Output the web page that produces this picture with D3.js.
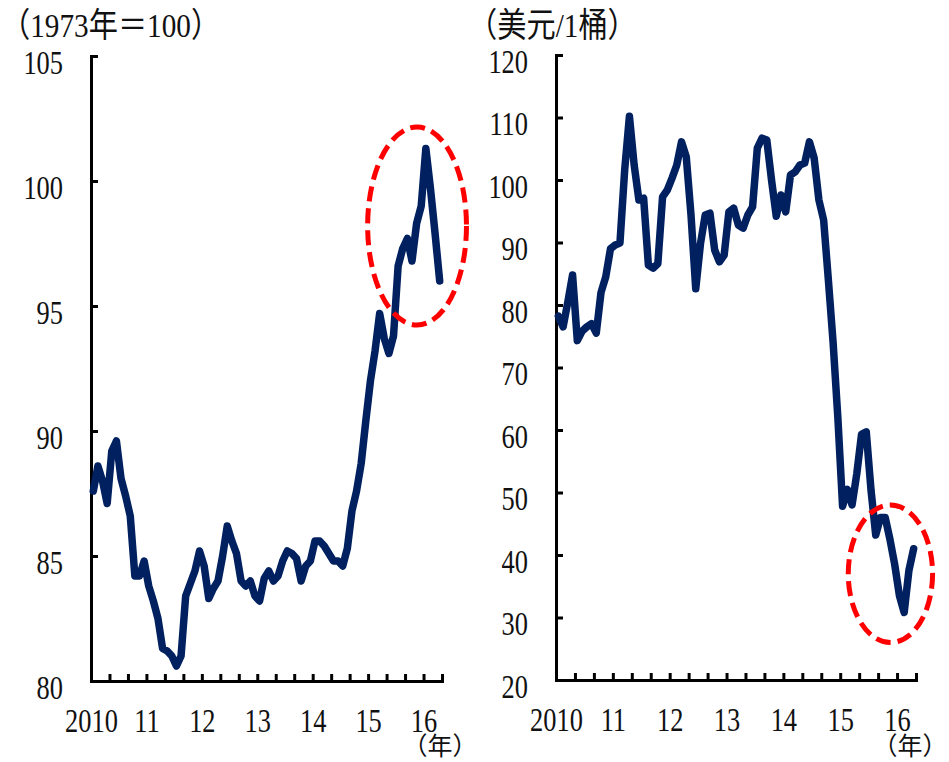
<!DOCTYPE html>
<html><head><meta charset="utf-8">
<script src="https://cdn.jsdelivr.net/npm/d3@7"></script>
<style>
html,body{margin:0;padding:0;background:#fff;overflow:hidden;}
svg{display:block;}
text{font-family:"Liberation Serif","Noto Sans CJK TC",serif;fill:#111;}
</style></head>
<body>
<svg id="c" width="949" height="762"></svg>
<script>
// ---------- data ----------
const yearLabels = ["2010","11","12","13","14","15","16"];
const monthCount = 76; // Jan 2010 .. Apr 2016
const leftTitle = "（1973年＝100）";
const rightTitle = "（美元/1桶）";
const xUnit = "（年）";
const leftTicks = [80,85,90,95,100,105];
const rightTicks = [20,30,40,50,60,70,80,90,100,110,120];
const leftValues = [87.6,88.6,88.0,87.1,89.2,89.6,88.1,87.4,86.6,84.2,84.2,84.8,
  83.8,83.2,82.5,81.3,81.2,81.0,80.6,81.0,83.4,83.9,84.4,85.2,
  84.6,83.3,83.7,84.0,85.0,86.2,85.6,85.1,84.0,83.8,84.0,83.4,
  83.2,84.1,84.4,84.0,84.2,84.8,85.2,85.1,84.9,84.0,84.6,84.8,
  85.6,85.6,85.4,85.1,84.8,84.8,84.6,85.3,86.8,87.6,88.7,90.4,
  92.0,93.2,94.7,93.7,93.1,93.8,96.6,97.3,97.7,96.8,98.3,99.0,
  101.3,99.7,97.9,96.0];
const rightValues = [78.2,76.5,80.5,84.8,74.3,75.8,76.5,77.0,75.5,82.0,84.5,89.0,
  89.6,89.9,101.6,110.2,102.4,96.8,97.1,86.4,85.9,86.6,97.3,98.4,
  100.3,102.4,106.1,103.7,94.4,82.6,89.8,94.4,94.7,88.8,86.9,88.0,
  94.9,95.5,92.8,92.3,94.4,95.7,105.1,106.7,106.4,100.0,94.2,97.6,
  94.9,100.8,101.3,102.4,102.7,106.1,103.5,96.8,93.6,84.0,74.0,62.0,
  47.8,50.5,48.0,53.0,59.3,59.7,50.4,43.2,46.0,46.0,42.5,38.5,
  33.5,30.8,37.5,41.0];
// highlight ellipses: [centre month, centre value, radius months, radius value]
const leftHighlight = [70.6, 98.2, 10.7, 3.96];
const rightHighlight = [70.6, 37.0, 8.9, 11.0];

// ---------- drawing ----------
const svg = d3.select("#c");
const navy = "#002060";

function panel(cfg){
  const x = d3.scaleLinear().domain([0, monthCount]).range([cfg.x0, cfg.x1]);
  const y = d3.scaleLinear().domain(cfg.domain).range([cfg.y0, cfg.y1]);
  const g = svg.append("g");

  // y axis
  const ya = g.append("g").attr("transform", `translate(${cfg.x0},0)`)
    .call(d3.axisLeft(y).tickValues(cfg.ticks).tickSize(-7).tickFormat(d3.format("d")));
  ya.select(".domain").attr("stroke","#000").attr("stroke-width",3);
  ya.selectAll(".tick line").attr("stroke","#000").attr("stroke-width",3);
  ya.selectAll(".tick text")
    .attr("x",0).attr("dy",null).attr("y",0)
    .attr("text-anchor","end")
    .attr("transform","translate(-28,17) scale(0.8,1)")
    .style("font-size","33px").style("font-family","Liberation Serif").attr("fill","#111");

  // x axis ticks
  const xa = g.append("g").attr("transform", `translate(0,${cfg.y0})`)
    .call(d3.axisBottom(x).tickValues(d3.range(0, monthCount+1, 4)).tickSize(-7).tickFormat(""));
  xa.select(".domain").attr("stroke","#000").attr("stroke-width",3);
  xa.selectAll(".tick line").attr("stroke","#000").attr("stroke-width",3);

  // year labels
  const xl = g.append("g").attr("transform", `translate(0,${cfg.y0})`)
    .call(d3.axisBottom(x).tickValues(d3.range(0, 73, 12)).tickSize(0)
      .tickFormat((d,i)=>yearLabels[i]));
  xl.select(".domain").remove();
  xl.selectAll(".tick text")
    .attr("y",0).attr("dy",null)
    .attr("text-anchor","middle")
    .attr("transform","translate(0,51) scale(0.8,1)")
    .style("font-size","33px").style("font-family","Liberation Serif").attr("fill","#111");

  // line
  const line = d3.line().x((d,i)=>x(i+0.5)).y(d=>y(d));
  g.append("path").datum(cfg.values)
    .attr("d", line).attr("fill","none").attr("stroke",navy)
    .attr("stroke-width",7.5).attr("stroke-linejoin","round").attr("stroke-linecap","round");

  // ellipse
  const h = cfg.highlight;
  g.append("ellipse")
    .attr("cx", x(h[0])).attr("cy", y(h[1]))
    .attr("rx", x(h[0]+h[2]) - x(h[0]))
    .attr("ry", y(h[1]-h[3]) - y(h[1]))
    .attr("fill","none").attr("stroke","#ff0000").attr("stroke-width",5)
    .attr("stroke-dasharray","15,7");

  // title
  g.append("text").attr("transform",`translate(${cfg.titleX},37) scale(0.86,1)`)
    .style("font-size","34px").text(cfg.title);
  // unit
  g.append("text").attr("transform",`translate(${cfg.unitX},755)`)
    .attr("text-anchor","middle")
    .style("font-size","25px").style("font-family","Noto Sans CJK TC").text(xUnit);
}

panel({x0:91, x1:442, y0:681, y1:56, domain:[80,105], ticks:leftTicks,
  values:leftValues, highlight:leftHighlight, title:leftTitle, titleX:1, unitX:440});
panel({x0:556, x1:916, y0:680, y1:55, domain:[20,120], ticks:rightTicks,
  values:rightValues, highlight:rightHighlight, title:rightTitle, titleX:468, unitX:910});
</script>
</body></html>
